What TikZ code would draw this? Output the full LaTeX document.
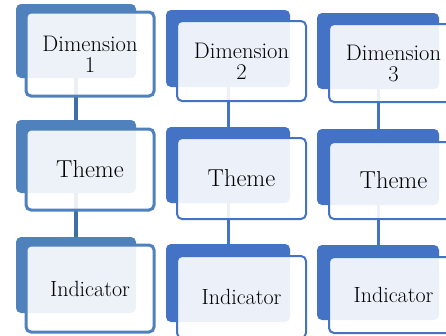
\documentclass[tikz,border=0pt]{standalone}
\definecolor{blueA}{HTML}{4F81BD}
\definecolor{blueB}{HTML}{4472C4}
\definecolor{lineA}{HTML}{3F6EA6}
\begin{document}
\begin{tikzpicture}[x=1pt,y=-1pt,
  backbox/.style={draw=none,fill=#1,rounded corners=5pt,inner sep=0pt,outer sep=0pt},
  frontbox/.style={draw=#1,fill=white,fill opacity=0.9,text opacity=1,rounded corners=5pt,inner sep=0pt,outer sep=0pt,align=center,font=\fontsize{22.5}{21}\selectfont},
  conn/.style={draw=#1,line width=3pt},
  themefont/.style={font=\fontsize{24.5}{24}\selectfont},
  indfont/.style={font=\fontsize{22}{22}\selectfont}]
\useasboundingbox (0,0) rectangle (446,335);
\clip (0,0) rectangle (446,335);
% back boxes
\node[backbox=blueA,minimum width=120pt,minimum height=74pt] (b1d) at (76,41) {};
\node[backbox=blueA,minimum width=120pt,minimum height=73pt] (b1t) at (76,156.5) {};
\node[backbox=blueA,minimum width=120pt,minimum height=76pt] (b1i) at (76,275) {};
\node[backbox=blueB,minimum width=124pt,minimum height=77pt] (b2d) at (228,48.5) {};
\node[backbox=blueB,minimum width=124pt,minimum height=76pt] (b2t) at (228,165) {};
\node[backbox=blueB,minimum width=124pt,minimum height=78pt] (b2i) at (228,283) {};
\node[backbox=blueB,minimum width=122pt,minimum height=76pt] (b3d) at (378,51) {};
\node[backbox=blueB,minimum width=122pt,minimum height=76pt] (b3t) at (378,167) {};
\node[backbox=blueB,minimum width=122pt,minimum height=75pt] (b3i) at (378,282.5) {};
% connectors
\draw[conn=lineA,line width=4pt] (b1d.south) -- (b1t.north);
\draw[conn=lineA,line width=4pt] (b1t.south) -- (b1i.north);
\draw[conn=blueB] (b2d.south) -- (b2t.north);
\draw[conn=blueB] (b2t.south) -- (b2i.north);
\draw[conn=blueB] (b3d.south) -- (b3t.north);
\draw[conn=blueB] (b3t.south) -- (b3i.north);
% front boxes
\node[frontbox=blueA,line width=3pt,minimum width=128pt,minimum height=84pt] (f1d) at (90,54) {Dimension\\1};
\node[frontbox=blueA,line width=3pt,minimum width=128pt,minimum height=81pt,themefont] (f1t) at (90,169.5) {Theme};
\node[frontbox=blueA,line width=3pt,minimum width=128pt,minimum height=87pt,indfont] (f1i) at (90,288.5) {Indicator};
\node[frontbox=blueB,line width=2pt,minimum width=129pt,minimum height=80pt] (f2d) at (241.5,61) {Dimension\\2};
\node[frontbox=blueB,line width=2pt,minimum width=129pt,minimum height=81pt,themefont] (f2t) at (241.5,178.5) {Theme};
\node[frontbox=blueB,line width=2pt,minimum width=129pt,minimum height=82pt,indfont] (f2i) at (241.5,297) {Indicator};
\node[frontbox=blueB,line width=2pt,minimum width=129pt,minimum height=78pt] (f3d) at (393.5,63) {Dimension\\3};
\node[frontbox=blueB,line width=2pt,minimum width=129pt,minimum height=77pt,themefont] (f3t) at (393.5,180.5) {Theme};
\node[frontbox=blueB,line width=2pt,minimum width=129pt,minimum height=76pt,indfont] (f3i) at (393.5,295) {Indicator};
\end{tikzpicture}
\end{document}
